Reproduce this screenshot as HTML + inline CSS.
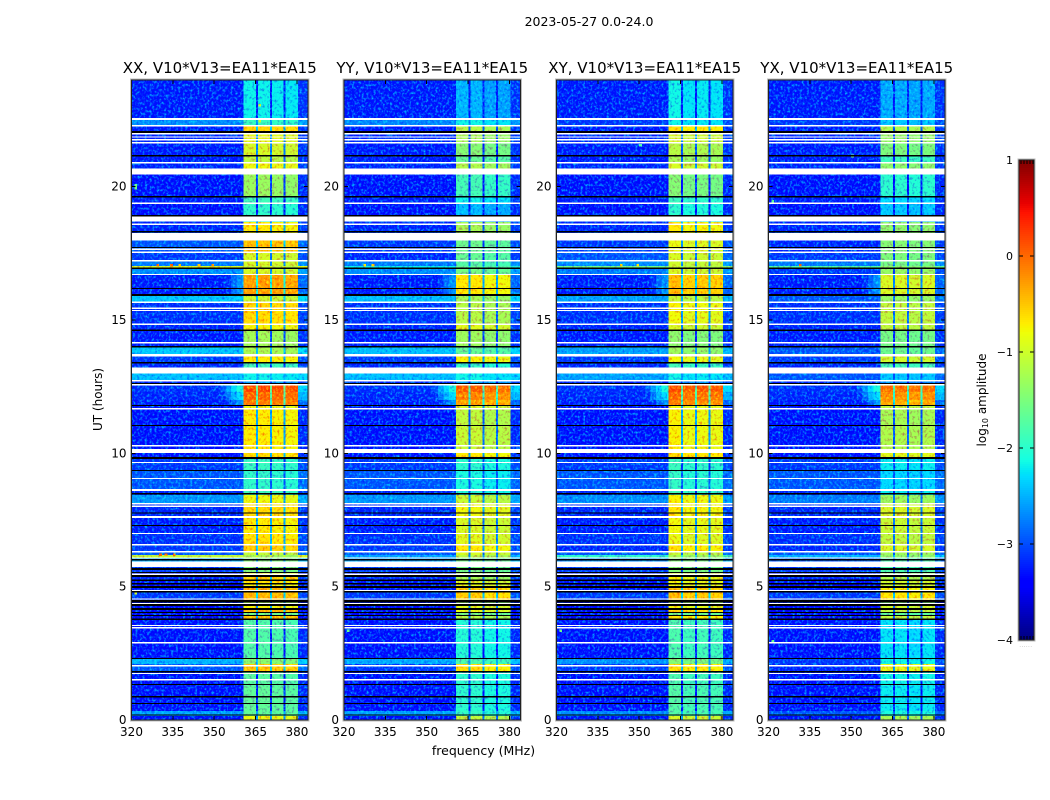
<!DOCTYPE html>
<html lang="en">
<head>
<meta charset="utf-8">
<title>2023-05-27 0.0-24.0 dynamic spectra</title>
<style>
  html, body { margin: 0; padding: 0; background: #fff; }
  svg { display: block; }
  text { font-family: "DejaVu Sans", "Liberation Sans", sans-serif; fill: #000; }
</style>
</head>
<body>
<svg id="figure" xmlns="http://www.w3.org/2000/svg" width="1050" height="800" viewBox="0 0 1050 800">
  <defs>
    <!-- Decorative grain only: imitates the speckle of the reference. These filters carry no data values. -->
    <filter id="grain" x="0" y="0" width="100%" height="100%" color-interpolation-filters="sRGB">
      <feTurbulence type="fractalNoise" baseFrequency="0.42 0.38" numOctaves="2" seed="7"/>
      <feColorMatrix type="matrix" values="0 0 0 0 0  0 1.8 0 0 -0.82  0 0 0 0 0  0 0 0 0 1"/>
    </filter>
    <filter id="grain-dark" x="0" y="0" width="100%" height="100%" color-interpolation-filters="sRGB">
      <feTurbulence type="fractalNoise" baseFrequency="0.4 0.36" numOctaves="2" seed="23"/>
      <feColorMatrix type="matrix" values="0 0 0 0 1  0 1.4 0 0 0.32  0 0 0 0 1  0 0 0 0 1"/>
    </filter>
  </defs>
  <text x="589" y="26" font-size="12.5" text-anchor="middle">2023-05-27 0.0-24.0</text>
  <text x="483.5" y="755" font-size="12.5" text-anchor="middle">frequency (MHz)</text>
  <text transform="translate(102,399.5) rotate(-90)" font-size="12" text-anchor="middle">UT (hours)</text>
  <text transform="translate(986,400) rotate(-90)" font-size="12" text-anchor="middle">log<tspan font-size="8" dy="2">10</tspan><tspan dy="-2"> amplitude</tspan></text>
  <text x="1026" y="647" font-size="5" text-anchor="middle" letter-spacing="0.6" style="fill:#999">......</text>
  <g id="panels"></g>
  <g id="colorbar"></g>
</svg>
<script>
// ---- Axis labels ----
const panelTitles = ["XX, V10*V13=EA11*EA15", "YY, V10*V13=EA11*EA15", "XY, V10*V13=EA11*EA15", "YX, V10*V13=EA11*EA15"];
const freqTicks = [320, 335, 350, 365, 380];
const hourTicks = [0, 5, 10, 15, 20];
const colorbarTicks = [1, 0, -1, -2, -3, -4];
const colorbarTickLabels = ["1", "0", "\u22121", "\u22122", "\u22123", "\u22124"];

// ---- Time segments (hours, ascending): top edge of each band of rows ----
const segmentTopHour = [0.15,0.34,1.275,1.8,2.1,2.29,3.75,3.9,4.01,4.125,4.2,4.35,4.5,4.78,4.95,5.08,5.21,5.36,5.55,5.74,5.94,6.075,6.19,6.34,6.56,7.01,7.61,8.14,8.44,8.66,9.34,9.79,10.01,11.03,11.66,11.81,12.0,12.3,12.56,12.75,12.99,13.22,13.37,13.65,13.97,14.6,14.85,15.34,15.64,15.9,16.69,16.93,17.03,17.21,17.53,17.99,18.34,18.67,18.94,19.35,19.65,20.47,20.89,21.125,21.64,22.01,22.28,22.55,24];

// log10 amplitude of the 320-360 MHz background, per polarisation
const backgroundXX = [-3.35,-2.6,-3.35,-3.35,-3.0,-2.5,-3.35,-3.5,-3.45,-3.5,-3.6,-3.45,-3.45,-3.15,-3.35,-3.45,-3.35,-3.25,-3.45,-3.15,-3.15,-2.55,-1.1,-3.0,-3.15,-3.2,-3.3,-3.25,-2.65,-3.25,-3.0,-3.15,-3.35,-3.35,-3.35,-3.35,-3.3,-3.25,-3.2,-3.25,-2.45,-3.15,-3.25,-3.15,-2.4,-3.3,-3.25,-3.2,-3.2,-2.4,-3.3,-2.7,-1.0,-2.8,-3.15,-3.0,-3.15,-3.25,-3.15,-3.35,-3.3,-3.35,-3.25,-3.3,-3.3,-3.25,-3.3,-2.7,-3.3];
const backgroundYY = [-3.35,-2.6,-3.35,-3.35,-3.15,-2.55,-3.35,-3.5,-3.45,-3.5,-3.6,-3.45,-3.45,-3.15,-3.35,-3.45,-3.35,-3.25,-3.45,-3.15,-3.15,-2.6,-2.6,-3.0,-3.15,-3.2,-3.3,-3.25,-2.65,-3.25,-3.0,-3.15,-3.35,-3.35,-3.35,-3.35,-3.3,-3.25,-3.2,-3.25,-2.45,-3.15,-3.25,-3.15,-2.45,-3.3,-3.25,-3.2,-3.2,-2.45,-3.3,-2.7,-2.2,-2.8,-3.25,-3.15,-3.15,-3.25,-3.15,-3.35,-3.3,-3.35,-3.25,-3.3,-3.3,-3.25,-3.3,-2.75,-3.3];
const backgroundXY = [-3.35,-2.7,-3.35,-3.35,-3.15,-2.7,-3.35,-3.5,-3.45,-3.5,-3.6,-3.45,-3.45,-3.15,-3.35,-3.45,-3.35,-3.25,-3.45,-3.15,-3.15,-2.7,-2.0,-3.0,-3.25,-3.2,-3.3,-3.25,-2.7,-3.25,-3.0,-3.15,-3.35,-3.35,-3.35,-3.35,-3.3,-3.25,-3.2,-3.25,-2.6,-3.15,-3.25,-3.15,-2.6,-3.3,-3.25,-3.2,-3.2,-2.6,-3.3,-2.8,-1.6,-2.7,-3.0,-3.15,-3.15,-3.25,-3.15,-3.35,-3.3,-3.35,-3.25,-3.3,-3.3,-3.25,-3.3,-3.15,-3.3];
const backgroundYX = [-3.35,-3.0,-3.35,-3.35,-3.25,-3.15,-3.35,-3.5,-3.45,-3.5,-3.6,-3.45,-3.45,-3.15,-3.35,-3.45,-3.35,-3.25,-3.45,-3.15,-3.15,-3.0,-2.5,-3.0,-3.25,-3.2,-3.3,-3.25,-2.8,-3.25,-3.0,-3.15,-3.35,-3.35,-3.35,-3.35,-3.3,-3.25,-3.2,-3.25,-3.0,-3.15,-3.25,-3.15,-3.0,-3.3,-3.25,-3.2,-3.2,-3.0,-3.3,-3.15,-1.8,-2.8,-3.15,-3.25,-3.15,-3.25,-3.15,-3.35,-3.3,-3.35,-3.25,-3.3,-3.3,-3.25,-3.3,-3.15,-3.3];

// log10 amplitude of the bright 361-380 MHz block, per polarisation
const blockXX = [-0.85,-1.7,-1.7,-1.75,-0.55,-1.45,-1.8,-0.5,-1.6,-0.4,-0.4,-0.8,-1.3,-0.45,-0.4,-0.8,-0.7,-0.6,-0.85,-1.5,-1.5,-1.5,-1.3,-1.1,-0.55,-0.7,-0.75,-0.65,-0.85,-1.9,-2.0,-1.95,-0.65,-0.75,-0.75,-0.85,-0.1,0.05,0.2,-2.6,-2.2,-2.2,-1.9,-0.75,-1.25,-1.3,-0.8,-0.65,-0.6,-1.05,-0.3,-1.0,-1.1,-1.0,-1.0,-0.5,-0.75,-0.75,-2.0,-2.0,-1.9,-1.35,-0.85,-1.15,-1.0,-0.9,-0.6,-1.95,-2.2];
const blockYY = [-1.15,-2.0,-2.05,-2.05,-0.7,-1.85,-2.1,-1.2,-1.6,-0.9,-0.9,-0.95,-1.4,-0.6,-0.6,-0.9,-1.0,-1.3,-1.25,-1.6,-1.6,-1.6,-1.2,-1.0,-0.75,-0.95,-1.0,-0.85,-1.1,-2.1,-2.15,-2.05,-0.75,-1.1,-1.15,-1.0,-0.35,-0.15,0.05,-2.6,-2.2,-2.2,-2.0,-0.8,-1.7,-1.35,-0.95,-1.2,-1.2,-1.3,-0.75,-1.6,-1.7,-1.8,-1.7,-1.65,-1.3,-1.3,-2.5,-2.5,-2.2,-1.9,-1.25,-1.7,-1.5,-1.3,-1.2,-2.2,-2.55];
const blockXY = [-1.0,-1.8,-1.8,-1.85,-0.7,-1.5,-1.85,-0.7,-1.6,-0.6,-0.6,-0.85,-1.3,-0.5,-0.5,-0.85,-0.85,-0.8,-1.0,-1.5,-1.5,-1.5,-1.3,-1.1,-0.7,-0.9,-0.85,-0.75,-0.8,-1.9,-2.0,-1.95,-0.65,-0.8,-0.8,-0.85,-0.15,0.0,0.15,-2.6,-2.2,-2.2,-1.9,-0.85,-1.35,-1.45,-1.0,-0.85,-0.8,-1.1,-0.5,-1.0,-1.1,-1.05,-1.0,-0.9,-0.75,-0.75,-2.05,-2.05,-1.95,-1.5,-1.0,-1.3,-1.2,-1.0,-0.7,-2.2,-2.2];
const blockYX = [-1.25,-2.1,-2.2,-2.15,-0.85,-2.15,-2.25,-1.1,-1.7,-1.1,-1.1,-1.0,-1.5,-0.7,-0.75,-1.0,-1.0,-1.2,-1.4,-1.8,-1.8,-1.8,-1.4,-1.3,-0.95,-1.1,-1.05,-0.95,-1.3,-2.2,-2.3,-2.2,-0.9,-1.2,-1.25,-1.1,-0.35,-0.2,0.0,-2.7,-2.4,-2.4,-1.85,-1.0,-1.6,-1.55,-1.1,-1.1,-1.1,-1.35,-0.95,-1.35,-1.4,-1.55,-1.5,-1.45,-1.4,-1.4,-2.4,-2.4,-2.3,-2.0,-1.4,-1.9,-1.5,-1.35,-1.2,-2.4,-2.55];

// level reached by the leakage just left of the block; -9 means none
const leakageLevel = [-9,-9,-9,-9,-9,-9,-9,-9,-9,-9,-9,-9,-9,-9,-9,-9,-9,-9,-9,-9,-9,-9,-9,-9,-9,-9,-9,-9,-9,-9,-9,-9,-9,-9,-9,-9,-2.6,-2.2,-2.0,-9,-9,-9,-9,-9,-9,-9,-9,-9,-9,-9,-2.6,-9,-9,-9,-9,-9,-9,-9,-9,-9,-9,-9,-9,-9,-9,-9,-9,-9,-9];

// ---- Frequency columns (MHz) ----
const columnEdges = [320,352,354,356,358,360,360.7,365.2,365.9,370.2,370.9,375.2,375.9,380.4,384];
const columnKinds = ["bg","leak0","leak1","leak2","leak3","leak4","sub0","notch","sub1","notch","sub2","notch","sub3","edge"];
const leakageDrop = [1.0, 0.6, 0.3, 0.1, 0];
const subBandOffsetXX = [0.03, 0.03, 0, -0.03];
const subBandOffsetYY = [0.05, 0.05, -0.05, -0.05];
const subBandOffsetXY = [0.05, -0.05, -0.02, -0.05];
const subBandOffsetYX = [0, 0, -0.05, 0];
const notchDrop = 1.8;
const edgeLift = 0.12;

// ---- Flagged rows (hours) ----
const whiteStart = [22.5,22.26,21.96,21.84,21.74,21.62,20.875,20.46,19.35,18.69,18.56,17.99,17.63,17.51,17.2,16.68,15.64,15.41,15.33,14.81,14.12,13.64,12.99,12.7,12.55,11.65,10.26,10.01,9.63,9.03,8.59,8.08,7.98,7.575,6.975,6.55,6.29,6.05,5.74,5.445,4.84,4.52,4.35,3.525,3.44,2.875,2.01,1.72,1.48];
const whiteEnd   = [22.58,22.31,22.01,21.89,21.79,21.675,20.925,20.68,19.4,18.89,18.61,18.27,17.69,17.56,17.25,16.72,15.69,15.46,15.375,14.87,14.17,13.725,13.22,12.75,12.6,11.7,10.31,10.16,9.675,9.08,8.66,8.14,8.04,7.65,7.02,6.6,6.34,6.1,5.94,5.5,4.88,4.56,4.39,3.56,3.495,2.925,2.06,1.76,1.54];
const blackStart = [22.01,21.125,19.585,18.89,18.28,17.7,16.91,16.16,15.9,14.59,13.97,13.37,12.6,11.775,11.03,9.79,9.34,8.46,7.74,7.275,5.99,5.625,5.51,5.36,5.21,5.08,4.95,4.78,4.41,4.275,4.125,4.01,3.9,3.75,2.29,1.78,1.31,0.85,0.6,0.17];
const blackEnd   = [22.09,21.19,19.65,18.93,18.34,17.74,16.96,16.2,15.97,14.64,14.03,13.425,12.64,11.81,11.06,9.87,9.375,8.52,7.78,7.31,6.03,5.7,5.55,5.44,5.27,5.14,5.025,4.84,4.5,4.35,4.2,4.05,3.94,3.81,2.325,1.84,1.35,0.9,0.64,0.21];

// ---- Isolated bright cells visible in the picture ----
const speckPanel = [0,0,0,0,0,0,0,0,0,0,1,1,2,2,2,3,3,3,0,0,1,2,3,0];
const speckFreq  = [329,334,337,344,349,330,332,335,321,321,330,327,343,349,350,331,321,350,366,366,321,321,321,321];
const speckHour  = [17.0,17.0,17.0,17.0,17.0,6.15,6.15,6.15,20.0,19.9,17.0,17.0,17.0,17.0,21.5,17.0,19.4,21.1,23.0,22.4,3.3,3.3,2.9,4.7];
const speckLevel = [0.1,0.05,-0.4,-0.5,-0.2,0.0,-0.1,0.0,-1.6,-1.6,-0.6,-0.7,-0.7,-0.7,-1.8,0.1,-1.7,-1.6,-1.0,-1.0,-1.6,-1.6,-1.6,-1.0];

const panelBackground = [backgroundXX, backgroundYY, backgroundXY, backgroundYX];
const panelBlock = [blockXX, blockYY, blockXY, blockYX];
const panelSubOffset = [subBandOffsetXX, subBandOffsetYY, subBandOffsetXY, subBandOffsetYX];
const panelLeft = [131.5, 344, 556.5, 768.5];

// ---- Geometry and scales ----
const PANEL_WIDTH = 176.5, AXES_TOP = 80, AXES_BOTTOM = 720;
const FREQ_MIN = 320, FREQ_MAX = 384, HOUR_MAX = 24;
const BAR_LEFT = 1019, BAR_RIGHT = 1034, BAR_TOP = 160, BAR_BOTTOM = 640;
const LEVEL_MIN = -4, LEVEL_MAX = 1;

function xScale(panel, freq) { return panelLeft[panel] + (freq - FREQ_MIN) / (FREQ_MAX - FREQ_MIN) * PANEL_WIDTH; }
function yScale(hour) { return AXES_BOTTOM - hour / HOUR_MAX * (AXES_BOTTOM - AXES_TOP); }
function barScale(level) { return BAR_BOTTOM - (level - LEVEL_MIN) / (LEVEL_MAX - LEVEL_MIN) * (BAR_BOTTOM - BAR_TOP); }

function ramp(v, pts) {
  if (v <= pts[0][0]) return pts[0][1];
  for (let i = 1; i < pts.length; i++) {
    if (v <= pts[i][0]) {
      const a = pts[i - 1], b = pts[i];
      return a[1] + (v - a[0]) / (b[0] - a[0]) * (b[1] - a[1]);
    }
  }
  return pts[pts.length - 1][1];
}
const jetR = [[0,0],[0.35,0],[0.66,1],[0.89,1],[1,0.5]];
const jetG = [[0,0],[0.125,0],[0.375,1],[0.64,1],[0.91,0],[1,0]];
const jetB = [[0,0.5],[0.11,1],[0.34,1],[0.65,0],[1,0]];
function colorScale(level) {
  const v = Math.min(1, Math.max(0, (level - LEVEL_MIN) / (LEVEL_MAX - LEVEL_MIN)));
  const c = p => Math.round(ramp(v, p) * 255);
  return "rgb(" + c(jetR) + "," + c(jetG) + "," + c(jetB) + ")";
}

function cellLevel(panel, seg, kind) {
  const bg = panelBackground[panel][seg], block = panelBlock[panel][seg];
  if (kind === "bg") return bg;
  if (kind === "edge") return Math.max(bg + edgeLift, leakageLevel[seg] - 0.3);
  if (kind === "notch") return Math.max(bg, block - notchDrop);
  if (kind.indexOf("leak") === 0) return Math.max(bg, leakageLevel[seg] - leakageDrop[+kind.slice(4)]);
  return block + panelSubOffset[panel][+kind.slice(3)];
}

const SVG_NS = "http://www.w3.org/2000/svg";
function make(tag, parent, attrs) {
  const el = document.createElementNS(SVG_NS, tag);
  for (const k in attrs) el.setAttribute(k, attrs[k]);
  parent.appendChild(el);
  return el;
}

const panelsRoot = document.getElementById("panels");

panelTitles.forEach(function (title, p) {
  const pol = title.slice(0, 2).toLowerCase();
  const left = panelLeft[p];

  const panel = make("g", panelsRoot, {});
  
  

  const heat = make("g", panel, { "shape-rendering": "crispEdges" });
  
  

  let lower = 0;
  segmentTopHour.forEach(function (top, s) {
    columnKinds.forEach(function (kind, c) {
      const x0 = xScale(p, columnEdges[c]), x1 = xScale(p, columnEdges[c + 1]);
      const y1 = yScale(lower), y0 = yScale(top);
      const cell = make("rect", heat, { x: x0, y: y0, width: x1 - x0, height: y1 - y0, fill: colorScale(cellLevel(p, s, kind)) });
      
      
    });
    lower = top;
  });

  speckPanel.forEach(function (owner, i) {
    if (owner !== p) return;
    const x0 = xScale(p, speckFreq[i]), x1 = xScale(p, speckFreq[i] + 1);
    const y0 = yScale(speckHour[i] + 0.1), y1 = yScale(speckHour[i]);
    const speck = make("rect", heat, { x: x0, y: y0, width: x1 - x0, height: y1 - y0, fill: colorScale(speckLevel[i]) });
    
    
  });

  const grain = make("rect", panel, { x: left, y: AXES_TOP, width: PANEL_WIDTH, height: AXES_BOTTOM - AXES_TOP, filter: "url(#grain)", style: "mix-blend-mode:screen" });
  
  

  const grainDark = make("rect", panel, { x: left, y: AXES_TOP, width: PANEL_WIDTH, height: AXES_BOTTOM - AXES_TOP, filter: "url(#grain-dark)", style: "mix-blend-mode:multiply" });
  
  

  const flagged = make("g", panel, { "shape-rendering": "crispEdges" });
  
  
  whiteStart.forEach(function (h, i) {
    const y0 = yScale(whiteEnd[i]), y1 = yScale(h);
    const row = make("rect", flagged, { x: left, y: y0, width: PANEL_WIDTH, height: y1 - y0, fill: "#fff" });
    
    
  });
  blackStart.forEach(function (h, i) {
    const y0 = yScale(blackEnd[i]), y1 = yScale(h);
    const row = make("rect", flagged, { x: left, y: y0, width: PANEL_WIDTH, height: y1 - y0, fill: "#000" });
    
    
  });

  const ticks = make("g", panel, { stroke: "#000", "stroke-width": 1, "shape-rendering": "crispEdges" });
  
  

  freqTicks.forEach(function (f) {
    const x = xScale(p, f);
    const bottomTick = make("line", ticks, { x1: x, x2: x, y1: AXES_BOTTOM, y2: AXES_BOTTOM - 4 });
    
    
    const topTick = make("line", ticks, { x1: x, x2: x, y1: AXES_TOP, y2: AXES_TOP + 4 });
    
    
    const label = make("text", panel, { x: x, y: AXES_BOTTOM + 16, "font-size": 12, "text-anchor": "middle" });
    label.textContent = String(f);
    
    
  });

  hourTicks.forEach(function (h) {
    const y = yScale(h);
    const leftTick = make("line", ticks, { x1: left, x2: left + 4, y1: y, y2: y });
    
    
    const rightTick = make("line", ticks, { x1: left + PANEL_WIDTH, x2: left + PANEL_WIDTH - 4, y1: y, y2: y });
    
    
    const label = make("text", panel, { x: left - 5, y: y + 4, "font-size": 12, "text-anchor": "end" });
    label.textContent = String(h);
    
    
  });

  const halo = make("rect", panel, { x: left - 1, y: AXES_TOP - 1, width: PANEL_WIDTH + 2, height: AXES_BOTTOM - AXES_TOP + 2, fill: "none", stroke: "#bbb", "stroke-width": 1, "shape-rendering": "crispEdges" });
  
  

  const frame = make("rect", panel, { x: left, y: AXES_TOP, width: PANEL_WIDTH, height: AXES_BOTTOM - AXES_TOP, fill: "none", stroke: "#222", "stroke-width": 1, "shape-rendering": "crispEdges" });
  
  

  const heading = make("text", panel, { x: left + PANEL_WIDTH / 2, y: 73, "font-size": 15, "text-anchor": "middle" });
  heading.textContent = title;
  
  
});

// ---- Colorbar ----
const barRoot = document.getElementById("colorbar");
const barSteps = make("g", barRoot, { "shape-rendering": "crispEdges" });


for (let y = BAR_TOP; y < BAR_BOTTOM; y += 2) {
  const level = LEVEL_MAX - (y + 1 - BAR_TOP) / (BAR_BOTTOM - BAR_TOP) * (LEVEL_MAX - LEVEL_MIN);
  const step = make("rect", barSteps, { x: BAR_LEFT, y: barScale(level) - 1, width: BAR_RIGHT - BAR_LEFT, height: 2, fill: colorScale(level) });
  
  
}
colorbarTicks.forEach(function (level, i) {
  const y = barScale(level);
  const tickL = make("line", barRoot, { x1: BAR_LEFT, x2: BAR_LEFT + 4, y1: y, y2: y, stroke: "#000", "shape-rendering": "crispEdges" });
  
  
  const tickR = make("line", barRoot, { x1: BAR_RIGHT, x2: BAR_RIGHT - 4, y1: y, y2: y, stroke: "#000", "shape-rendering": "crispEdges" });
  
  
  const label = make("text", barRoot, { x: BAR_LEFT - 6, y: y + 4, "font-size": 11, "text-anchor": "end" });
  label.textContent = colorbarTickLabels[i];
  
  
});
[1021, 1024, 1027, 1030, 1033].forEach(function (x) {
  const top = make("line", barRoot, { x1: x, x2: x, y1: BAR_TOP, y2: BAR_TOP + 4, stroke: "#000", "shape-rendering": "crispEdges" });
  
  
  const bottom = make("line", barRoot, { x1: x, x2: x, y1: BAR_BOTTOM, y2: BAR_BOTTOM - 4, stroke: "#000", "shape-rendering": "crispEdges" });
  
  
});
const barHalo = make("rect", barRoot, { x: BAR_LEFT - 1, y: BAR_TOP - 1, width: BAR_RIGHT - BAR_LEFT + 2, height: BAR_BOTTOM - BAR_TOP + 2, fill: "none", stroke: "#bbb", "stroke-width": 1, "shape-rendering": "crispEdges" });


const barFrame = make("rect", barRoot, { x: BAR_LEFT, y: BAR_TOP, width: BAR_RIGHT - BAR_LEFT, height: BAR_BOTTOM - BAR_TOP, fill: "none", stroke: "#222", "stroke-width": 1, "shape-rendering": "crispEdges" });


</script>
</body>
</html>
